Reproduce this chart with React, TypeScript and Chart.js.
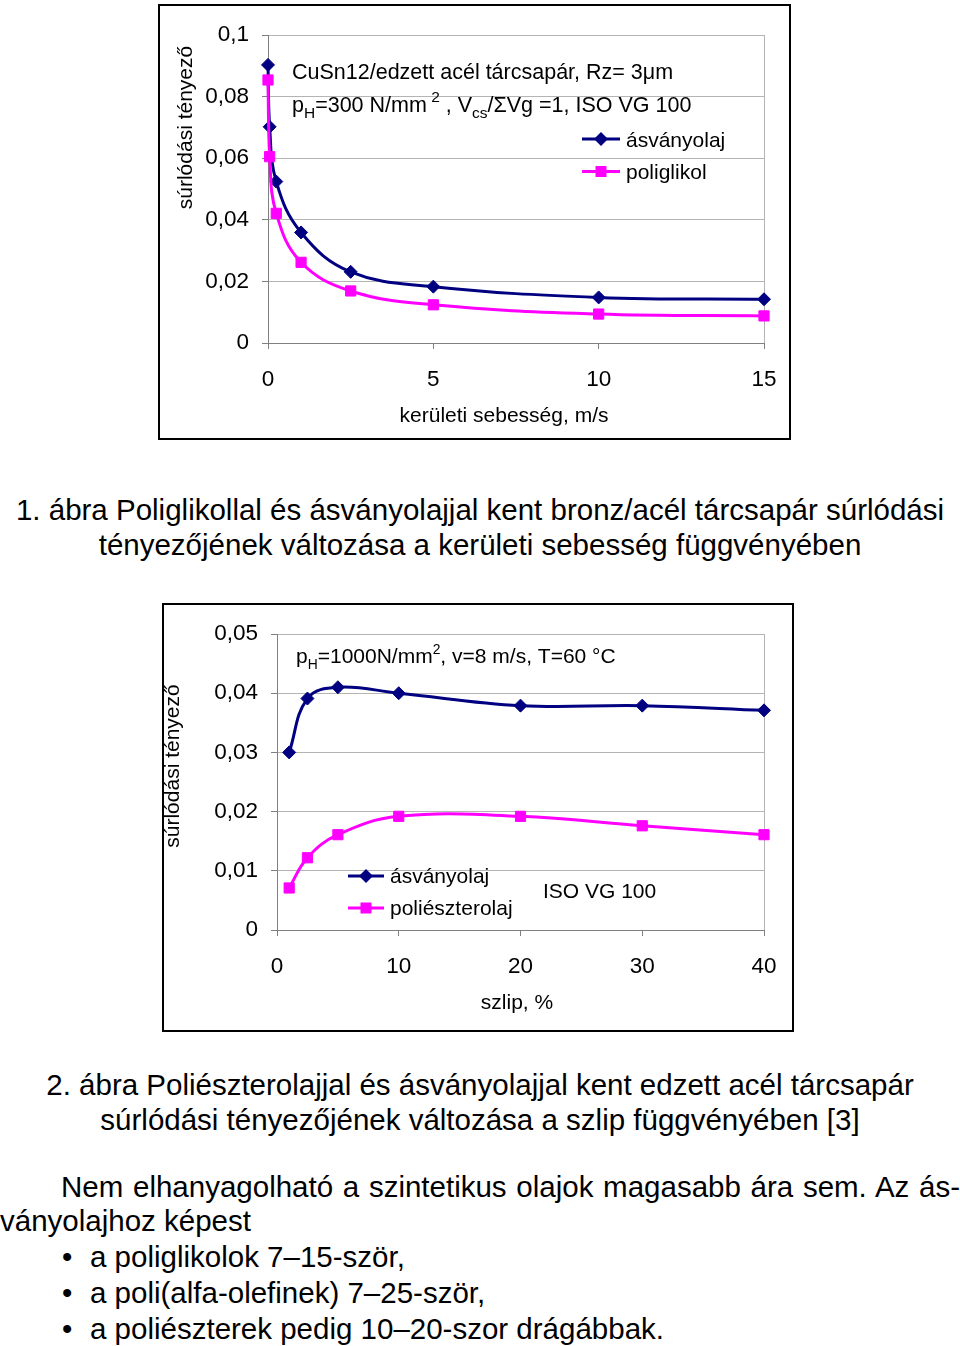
import React, { useEffect, useRef } from 'react';
import { Chart, registerables } from 'chart.js';

Chart.register(...registerables);

const FONT = '"Liberation Sans", Arial, Helvetica, sans-serif';
Chart.defaults.font.family = FONT;
Chart.defaults.color = '#000';

// ---------- Data: chart 1 ----------
const speedX = [0, 0.05, 0.25, 1, 2.5, 5, 10, 15];
const mineralOil1 = [0.0903, 0.0702, 0.0524, 0.0359, 0.0231, 0.0183, 0.0148, 0.0142];
const polyglycol = [0.0854, 0.0605, 0.0421, 0.0262, 0.0169, 0.0124, 0.0094, 0.0088];
const speedTicks = [0, 5, 10, 15];
const frictionTicks1 = [0, 0.02, 0.04, 0.06, 0.08, 0.1];

// ---------- Data: chart 2 ----------
const slipX = [1, 2.5, 5, 10, 20, 30, 40];
const mineralOil2 = [0.03, 0.0391, 0.041, 0.04, 0.0379, 0.0379, 0.0371];
const polyester = [0.0071, 0.0122, 0.0161, 0.0192, 0.0192, 0.0176, 0.0161];
const slipTicks = [0, 10, 20, 30, 40];
const frictionTicks2 = [0, 0.01, 0.02, 0.03, 0.04, 0.05];

// ---------- Labels ----------
const label1Mineral = 'ásványolaj';
const label1Glycol = 'poliglikol';
const label2Mineral = 'ásványolaj';
const label2Ester = 'poliészterolaj';
const yTitle = 'súrlódási tényező';
const xTitle1 = 'kerületi sebesség, m/s';
const xTitle2 = 'szlip, %';

const NAVY = '#000080';
const MAGENTA = '#FF00FF';
const GRID = '#b4b4b4';
const AXIS = '#808080';

type Seg = { t: string; sub?: boolean; sup?: boolean };

function drawRich(ctx: CanvasRenderingContext2D, segs: Seg[], x: number, y: number, size: number, subRatio = 0.66) {
  let cx = x;
  for (const s of segs) {
    const small = s.sub || s.sup;
    const fs = small ? size * subRatio : size;
    const dy = s.sub ? size * 0.28 : s.sup ? -size * 0.45 : 0;
    ctx.font = `${fs}px ${FONT}`;
    ctx.fillText(s.t, cx, y + dy);
    cx += ctx.measureText(s.t).width;
  }
}

function drawDiamond(ctx: CanvasRenderingContext2D, x: number, y: number, r: number, color: string) {
  ctx.beginPath();
  ctx.moveTo(x, y - r);
  ctx.lineTo(x + r, y);
  ctx.lineTo(x, y + r);
  ctx.lineTo(x - r, y);
  ctx.closePath();
  ctx.fillStyle = color;
  ctx.fill();
}

function drawSquare(ctx: CanvasRenderingContext2D, x: number, y: number, h: number, color: string) {
  ctx.fillStyle = color;
  ctx.fillRect(x - h, y - h, 2 * h, 2 * h);
}

function legendItem(
  ctx: CanvasRenderingContext2D,
  x1: number,
  x2: number,
  y: number,
  color: string,
  kind: 'diamond' | 'square',
  text: string,
  tx: number,
  ty: number,
  size: number
) {
  ctx.strokeStyle = color;
  ctx.lineWidth = 3;
  ctx.beginPath();
  ctx.moveTo(x1, y);
  ctx.lineTo(x2, y);
  ctx.stroke();
  const mx = (x1 + x2) / 2;
  if (kind === 'diamond') drawDiamond(ctx, mx, y, 7, color);
  else drawSquare(ctx, mx, y, 5.5, color);
  ctx.fillStyle = '#000';
  ctx.font = `${size}px ${FONT}`;
  ctx.fillText(text, tx, ty);
}

function rotatedTitle(ctx: CanvasRenderingContext2D, text: string, x: number, y: number, size: number) {
  ctx.save();
  ctx.translate(x, y);
  ctx.rotate(-Math.PI / 2);
  ctx.font = `${size}px ${FONT}`;
  ctx.textAlign = 'center';
  ctx.textBaseline = 'middle';
  ctx.fillStyle = '#000';
  ctx.fillText(text, 0, 0);
  ctx.restore();
}

const TXT = 21;

const annot1 = {
  id: 'annot1',
  afterDraw(chart: any) {
    const ctx: CanvasRenderingContext2D = chart.ctx;
    ctx.save();
    ctx.fillStyle = '#000';
    ctx.textAlign = 'left';
    ctx.textBaseline = 'alphabetic';
    drawRich(ctx, [{ t: 'CuSn12/edzett acél tárcsapár, Rz= 3' }, { t: 'μ' }, { t: 'm' }], 132, 73, 21.5);
    drawRich(
      ctx,
      [
        { t: 'p' },
        { t: 'H', sub: true },
        { t: '=300 N/mm' },
        { t: ' 2', sup: true },
        { t: ' , V' },
        { t: 'cs', sub: true },
        { t: '/ΣVg =1, ISO VG 100' },
      ],
      132,
      106,
      21.5,
      0.72
    );
    legendItem(ctx, 422, 460, 133, NAVY, 'diamond', label1Mineral, 466, 141, TXT);
    legendItem(ctx, 422, 460, 165.5, MAGENTA, 'square', label1Glycol, 466, 173, TXT);
    ctx.font = `${TXT}px ${FONT}`;
    ctx.textAlign = 'center';
    ctx.textBaseline = 'middle';
    ctx.fillStyle = '#000';
    ctx.fillText(xTitle1, 344, 410);
    rotatedTitle(ctx, yTitle, 26, 121.5, TXT);
    ctx.restore();
  },
};

const annot2 = {
  id: 'annot2',
  afterDraw(chart: any) {
    const ctx: CanvasRenderingContext2D = chart.ctx;
    ctx.save();
    ctx.fillStyle = '#000';
    ctx.textAlign = 'left';
    ctx.textBaseline = 'alphabetic';
    drawRich(
      ctx,
      [{ t: 'p' }, { t: 'H', sub: true }, { t: '=1000N/mm' }, { t: '2', sup: true }, { t: ', v=8 m/s, T=60 °C' }],
      132,
      58,
      TXT
    );
    legendItem(ctx, 184, 220, 271, NAVY, 'diamond', label2Mineral, 226, 278, TXT);
    legendItem(ctx, 184, 220, 303, MAGENTA, 'square', label2Ester, 226, 310, TXT);
    ctx.font = `${TXT}px ${FONT}`;
    ctx.fillText('ISO VG 100', 379, 293);
    ctx.textAlign = 'center';
    ctx.textBaseline = 'middle';
    ctx.fillText(xTitle2, 353, 398);
    rotatedTitle(ctx, yTitle, 9, 161, TXT);
    ctx.restore();
  },
};

const fmt = (v: any) => String(v).replace('.', ',');

function buildConfig(opts: {
  xs: number[];
  a: number[];
  b: number[];
  aLabel: string;
  bLabel: string;
  xTicks: number[];
  yTicks: number[];
  yWidth: number;
  xHeight: number;
  padTop: number;
  padRight: number;
  plugin: any;
}): any {
  const xMax = opts.xTicks[opts.xTicks.length - 1];
  const yMax = opts.yTicks[opts.yTicks.length - 1];
  const ds = (label: string, vals: number[], color: string, style: string, radius: number) => ({
    label,
    data: opts.xs.map((x, i) => ({ x, y: vals[i] })),
    borderColor: color,
    backgroundColor: color,
    borderWidth: 3,
    pointStyle: style,
    pointRadius: radius,
    pointHoverRadius: radius,
    pointBorderWidth: 1,
    pointBackgroundColor: color,
    pointBorderColor: color,
    showLine: true,
    tension: 0.4,
    clip: false,
  });
  return {
    type: 'scatter',
    data: {
      datasets: [
        ds(opts.bLabel, opts.b, MAGENTA, 'rect', 7.2),
        ds(opts.aLabel, opts.a, NAVY, 'rectRot', 6.5),
      ],
    },
    options: {
      animation: false,
      responsive: false,
      events: [],
      layout: { padding: { top: opts.padTop, right: opts.padRight, left: 0, bottom: 0 } },
      plugins: { legend: { display: false }, tooltip: { enabled: false }, title: { display: false } },
      scales: {
        x: {
          type: 'linear',
          min: 0,
          max: xMax,
          afterBuildTicks: (s: any) => {
            s.ticks = opts.xTicks.map((v) => ({ value: v }));
          },
          afterFit: (s: any) => {
            s.height = opts.xHeight;
            s.paddingLeft = 0;
            s.paddingRight = 0;
          },
          ticks: { font: { size: 22.5, family: FONT }, color: '#000', padding: 17, callback: fmt, maxRotation: 0 },
          grid: {
            color: (c: any) => (c.tick && c.tick.value === xMax ? GRID : 'rgba(0,0,0,0)'),
            tickColor: AXIS,
            tickLength: 6,
            lineWidth: 1,
          },
          border: { color: AXIS, width: 1 },
        },
        y: {
          type: 'linear',
          min: 0,
          max: yMax,
          afterBuildTicks: (s: any) => {
            s.ticks = opts.yTicks.map((v) => ({ value: v }));
          },
          afterFit: (s: any) => {
            s.width = opts.yWidth;
            s.paddingTop = 0;
            s.paddingBottom = 0;
          },
          ticks: { font: { size: 22.5, family: FONT }, color: '#000', padding: 13, callback: fmt },
          grid: { color: GRID, tickColor: AXIS, tickLength: 6, lineWidth: 1 },
          border: { color: AXIS, width: 1 },
        },
      },
    },
    plugins: [opts.plugin],
  };
}

function ChartBox(props: { left: number; top: number; w: number; h: number; config: () => any }) {
  const ref = useRef<HTMLCanvasElement | null>(null);
  useEffect(() => {
    if (!ref.current) return;
    const chart = new Chart(ref.current, props.config());
    return () => chart.destroy();
  }, []);
  return (
    <div
      style={{
        position: 'absolute',
        left: props.left,
        top: props.top,
        width: props.w + 4,
        height: props.h + 4,
        border: '2px solid #000',
        boxSizing: 'border-box',
        background: '#fff',
      }}
    >
      <canvas ref={ref} width={props.w} height={props.h} style={{ display: 'block', width: props.w, height: props.h }} />
    </div>
  );
}

const textStyle: React.CSSProperties = {
  position: 'absolute',
  fontFamily: FONT,
  fontSize: '29.5px',
  lineHeight: '35px',
  color: '#000',
  whiteSpace: 'nowrap',
  margin: 0,
};

export default function App() {
  return (
    <div style={{ position: 'absolute', left: 0, top: 0, width: 960, height: 1346, background: '#fff', overflow: 'hidden' }}>
      <ChartBox
        left={158}
        top={4}
        w={629}
        h={432}
        config={() =>
          buildConfig({
            xs: speedX,
            a: mineralOil1,
            b: polyglycol,
            aLabel: label1Mineral,
            bLabel: label1Glycol,
            xTicks: speedTicks,
            yTicks: frictionTicks1,
            yWidth: 108,
            xHeight: 95,
            padTop: 29,
            padRight: 25,
            plugin: annot1,
          })
        }
      />
      <div style={{ ...textStyle, left: 0, top: 492, width: 960, textAlign: 'center' }}>
        1. ábra Poliglikollal és ásványolajjal kent bronz/acél tárcsapár súrlódási
        <br />
        tényezőjének változása a kerületi sebesség függvényében
      </div>
      <ChartBox
        left={162}
        top={603}
        w={628}
        h={425}
        config={() =>
          buildConfig({
            xs: slipX,
            a: mineralOil2,
            b: polyester,
            aLabel: label2Mineral,
            bLabel: label2Ester,
            xTicks: slipTicks,
            yTicks: frictionTicks2,
            yWidth: 113,
            xHeight: 100,
            padTop: 29,
            padRight: 28,
            plugin: annot2,
          })
        }
      />
      <div style={{ ...textStyle, left: 0, top: 1067, width: 960, textAlign: 'center' }}>
        2. ábra Poliészterolajjal és ásványolajjal kent edzett acél tárcsapár
        <br />
        súrlódási tényezőjének változása a szlip függvényében [3]
      </div>
      <div style={{ ...textStyle, left: 61, top: 1169, width: 899, textAlign: 'justify', textAlignLast: 'justify' as any }}>
        Nem elhanyagolható a szintetikus olajok magasabb ára sem. Az ás-
      </div>
      <div style={{ ...textStyle, left: 0, top: 1203 }}>ványolajhoz képest</div>
      <div style={{ ...textStyle, left: 62, top: 1239 }}>•</div>
      <div style={{ ...textStyle, left: 90, top: 1239 }}>a poliglikolok 7–15-ször,</div>
      <div style={{ ...textStyle, left: 62, top: 1275 }}>•</div>
      <div style={{ ...textStyle, left: 90, top: 1275 }}>a poli(alfa-olefinek) 7–25-ször,</div>
      <div style={{ ...textStyle, left: 62, top: 1311 }}>•</div>
      <div style={{ ...textStyle, left: 90, top: 1311 }}>a poliészterek pedig 10–20-szor drágábbak.</div>
    </div>
  );
}
